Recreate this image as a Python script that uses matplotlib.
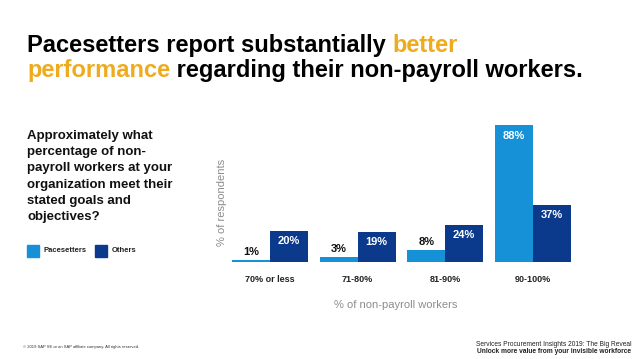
import matplotlib
matplotlib.use("Agg")
import matplotlib.pyplot as plt
import numpy as np

plt.rcParams['font.family'] = ['Liberation Sans', 'DejaVu Sans']

# data
categories = ["70% or less", "71-80%", "81-90%", "90-100%"]
pacesetters = [1, 3, 8, 88]
others = [20, 19, 24, 37]

question_lines = ["Approximately what", "percentage of non-", "payroll workers at your",
                  "organization meet their", "stated goals and", "objectives?"]

c_pace = "#1690d6"
c_oth = "#0b3a8c"
c_gold = "#efab1e"
c_grey = "#8c8c8c"

W, H = 638, 359
fig = plt.figure(figsize=(W / 100, H / 100), dpi=100)


def fx(x):
    return x / W


def fy(y):
    return 1 - y / H


# title with two colours, pieces placed one after another
renderer = fig.canvas.get_renderer()


def colored_line(x, y, parts, size):
    for txt, col in parts:
        t = fig.text(fx(x), fy(y), txt, color=col, fontsize=size, fontweight='bold',
                     ha='left', va='baseline')
        bb = t.get_window_extent(renderer=renderer)
        x += bb.width


colored_line(27, 52, [("Pacesetters report substantially ", "black"), ("better", c_gold)], 17)
colored_line(27, 77, [("performance", c_gold), (" regarding their non-payroll workers.", "black")], 17)

# question on the left
for i, line in enumerate(question_lines):
    fig.text(fx(27), fy(136 + i * 16.2), line, fontsize=9.5, fontweight='bold',
             ha='left', va='center', color="#111111")

# legend
fig.patches.append(plt.Rectangle((fx(27), fy(257)), 12 / W, 12 / H, transform=fig.transFigure,
                                 color=c_pace, figure=fig))
fig.text(fx(44), fy(251), "Pacesetters", fontsize=5.5, fontweight='bold', va='center', color="#222222")
fig.patches.append(plt.Rectangle((fx(95), fy(257)), 12 / W, 12 / H, transform=fig.transFigure,
                                 color=c_oth, figure=fig))
fig.text(fx(112), fy(251), "Others", fontsize=5.5, fontweight='bold', va='center', color="#222222")

# bar chart
base_px = 262
px_per_pct = 1.553
ymax = 95
left_px, right_px = 226.2, 576.5
ax = fig.add_axes([fx(left_px), fy(base_px), (right_px - left_px) / W, ymax * px_per_pct / H])
x = np.arange(len(categories))
w = 38 / 87.6
ax.bar(x - w / 2, pacesetters, w, color=c_pace)
ax.bar(x + w / 2, others, w, color=c_oth)
ax.set_xlim(-0.5, len(categories) - 0.5)
ax.set_ylim(0, ymax)

for xi, v in zip(x, pacesetters):
    if v > 20:
        ax.annotate(f"{v}%", (xi - w / 2, v), xytext=(0, -11), textcoords='offset pixels',
                    ha='center', va='center', color='white', fontsize=8, fontweight='bold')
    else:
        ax.annotate(f"{v}%", (xi - w / 2, v), xytext=(0, 8), textcoords='offset pixels',
                    ha='center', va='center', color='#111111', fontsize=8, fontweight='bold')
for xi, v in zip(x, others):
    ax.annotate(f"{v}%", (xi + w / 2, v), xytext=(0, -10), textcoords='offset pixels',
                ha='center', va='center', color='white', fontsize=8, fontweight='bold')

ax.set_xticks(x)
ax.set_xticklabels(categories, fontsize=6.5, fontweight='bold', color="#222222")
ax.tick_params(axis='x', length=0, pad=9)
ax.set_yticks([])
for s in ax.spines.values():
    s.set_visible(False)

fig.text(fx(222), fy(202), "% of respondents", rotation=90, fontsize=8, color=c_grey,
         ha='center', va='center')
fig.text(fx(396), fy(305), "% of non-payroll workers", fontsize=8, color=c_grey,
         ha='center', va='center')

# footer
fig.text(fx(23), fy(347), "\u00a9 2019 SAP SE or an SAP affiliate company. All rights reserved.",
         fontsize=3, color="#333333", va='center')
fig.text(fx(631), fy(345), "Services Procurement Insights 2019: The Big Reveal", fontsize=4.8,
         color="#222222", ha='right', va='center')
fig.text(fx(631), fy(351.5), "Unlock more value from your invisible workforce", fontsize=4.8,
         fontweight='bold', color="#222222", ha='right', va='center')

fig.savefig("out.png", dpi=100)
